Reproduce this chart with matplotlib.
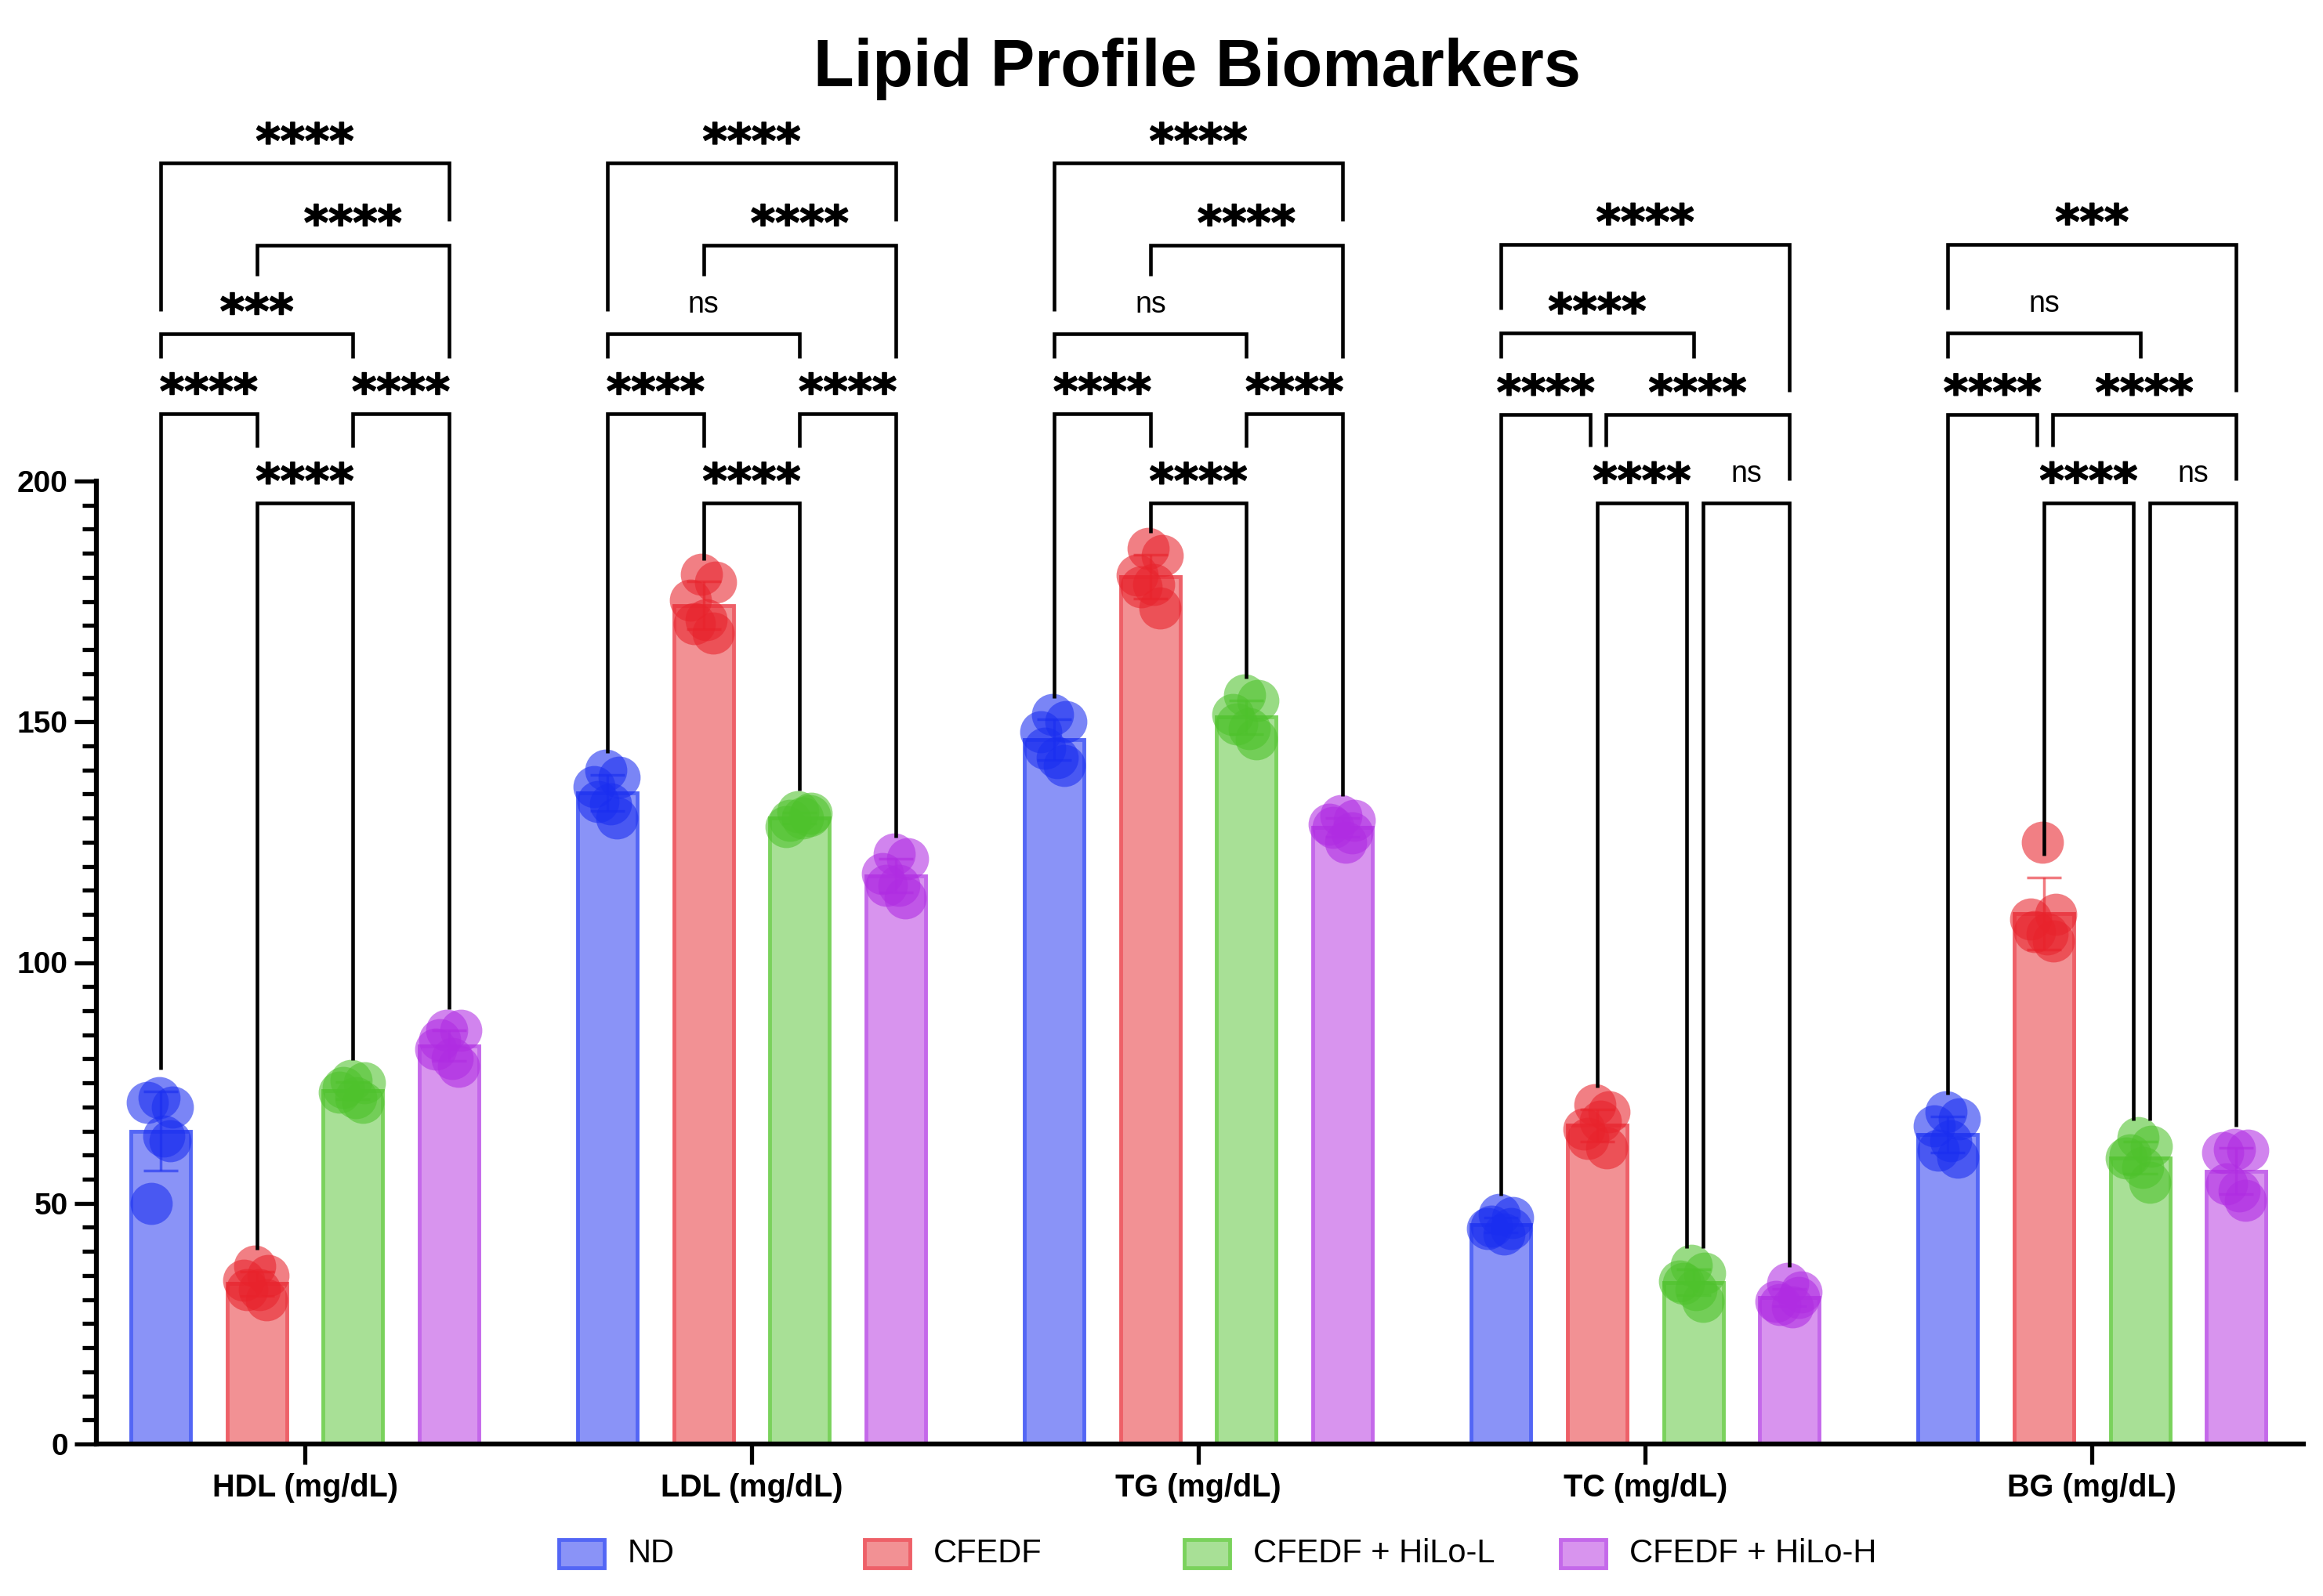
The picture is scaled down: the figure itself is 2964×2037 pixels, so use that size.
import numpy as np
import matplotlib
matplotlib.use("Agg")
import matplotlib.pyplot as plt
import matplotlib.patheffects as pe
from matplotlib.patches import Rectangle

# ---- data ----
categories = ["HDL (mg/dL)", "LDL (mg/dL)", "TG (mg/dL)", "TC (mg/dL)", "BG (mg/dL)"]
groups = ["ND", "CFEDF", "CFEDF + HiLo-L", "CFEDF + HiLo-H"]

nd_pts = [[72, 70, 71, 64, 63, 50],
          [140, 138.5, 136.5, 133, 130, 133.5],
          [151.5, 150, 148, 142.5, 141, 144.5],
          [47.7, 47, 44.8, 43.6, 44.8, 45.3],
          [69, 67.5, 66, 63, 59.5, 61]]
cfedf_pts = [[37, 35, 34, 32, 30, 32],
             [180.6, 179, 175.3, 171.2, 168.4, 170.4],
             [186, 184.5, 180.4, 178.5, 173.6, 178],
             [70.5, 69, 65.5, 67, 61.5, 63.5],
             [125, 110, 109, 106, 104.5, 106.5]]
hilol_pts = [[75.5, 75, 73, 72, 71, 74],
             [131.3, 131, 128.2, 130, 130.5, 129.5],
             [155.5, 154.5, 151.5, 148.5, 146.5, 149.5],
             [37.1, 35.5, 33.9, 32, 29.6, 33.4],
             [63.7, 61.8, 59.4, 57.5, 54.3, 60]]
hiloh_pts = [[86, 86, 82, 80, 78.5, 84],
             [122.5, 121.5, 118.5, 116, 113.5, 116],
             [130.5, 129.5, 128.7, 125, 127, 128],
             [33.4, 31.5, 29.6, 28.5, 30.5, 29],
             [61.2, 61, 60.5, 52.5, 50.6, 54]]
all_pts = [nd_pts, cfedf_pts, hilol_pts, hiloh_pts]

# significance labels, one list per category (order follows the bracket layout)
sig_hdl = ["****", "****", "***", "****", "****", "****"]
sig_ldl = ["****", "****", "ns", "****", "****", "****"]
sig_tg = ["****", "****", "ns", "****", "****", "****"]
sig_tc = ["****", "****", "****", "****", "****", "ns"]
sig_bg = ["***", "ns", "****", "****", "****", "ns"]
sig_labels = [sig_hdl, sig_ldl, sig_tg, sig_tc, sig_bg]

# ---- styling / layout ----
fill_cols = ["#8A93F7", "#F29194", "#A8E096", "#D894EE"]
edge_cols = ["#5366F5", "#EE6068", "#7AD25C", "#C468EA"]
dot_cols = ["#1A2EF0", "#E8232C", "#4EC22C", "#B02CE2"]

group_gap = 4.65
bar_w = 0.62
jitter = [-0.02, 0.12, -0.14, 0.03, 0.1, -0.1]

# bracket layouts: (i, j, line y, left leg bottom, right leg bottom, left dx, right dx)
layout_a = [(0, 3, 266.0, 235.3, 254.0, 0, 0),
            (1, 3, 249.0, 242.6, 225.5, 0, 0),
            (0, 2, 230.6, 225.5, 225.5, 0, 0),
            (0, 1, 214.0, None, 207.0, 0, 0),
            (2, 3, 214.0, 207.0, None, 0, 0),
            (1, 2, 195.4, None, None, 0, 0)]
layout_b = [(0, 3, 249.2, 235.6, 218.5, 0, 0),
            (0, 2, 230.7, 225.6, 225.6, 0, 0),
            (0, 1, 213.8, None, 207.2, 0, -0.07),
            (1, 3, 213.8, 207.2, 200.2, 0.09, 0),
            (1, 2, 195.5, None, None, 0, -0.07),
            (2, 3, 195.5, None, None, 0.1, 0)]
layouts = [layout_a, layout_a, layout_a, layout_b, layout_b]

FONT = "Liberation Sans"
plt.rcParams["font.family"] = [FONT, "DejaVu Sans"]

W, H = 2964, 2037
fig = plt.figure(figsize=(W / 100, H / 100), dpi=100)
ymax = 285
px_per_unit = 6.145
ax = fig.add_axes([123 / W, 194 / H, 2816 / W, ymax * px_per_unit / H])
ax.patch.set_visible(False)

centers = np.arange(len(categories)) * group_gap
means = np.array([[np.mean(p) for p in grp] for grp in all_pts])
sds = np.array([[np.std(p, ddof=1) for p in grp] for grp in all_pts])

for k in range(len(groups)):
    xs = centers + (k - 1.5)
    ax.bar(xs, means[k], width=bar_w, color=fill_cols[k], edgecolor=edge_cols[k],
           linewidth=3.5, zorder=2)
    ax.errorbar(xs, means[k], yerr=sds[k], fmt="none", ecolor=dot_cols[k], alpha=0.6,
                elinewidth=2.5, capsize=16, capthick=2.5, zorder=3)
    for c in range(len(categories)):
        pts = all_pts[k][c]
        px = xs[c] + np.array(jitter[:len(pts)])
        ax.scatter(px, pts, s=1500, color=dot_cols[k], alpha=0.58, linewidths=0,
                   zorder=4)

# significance brackets
star_fx = [pe.withStroke(linewidth=1.2, foreground="black")]
for c in range(len(categories)):
    for (i, j, yl, b1, b2, d1, d2), lab in zip(layouts[c], sig_labels[c]):
        x1 = centers[c] + i - 1.5 + d1
        x2 = centers[c] + j - 1.5 + d2
        if b1 is None:
            b1 = means[i][c] + sds[i][c] + 4.5
        if b2 is None:
            b2 = means[j][c] + sds[j][c] + 4.5
        ax.plot([x1, x1, x2, x2], [b1, yl, yl, b2], color="black", lw=3.3,
                solid_joinstyle="miter", solid_capstyle="butt", zorder=5,
                clip_on=False)
        xm = (x1 + x2) / 2
        if lab == "ns":
            ax.text(xm, yl + 4.4, lab, ha="center", va="baseline", fontsize=27)
        else:
            ax.text(xm, yl + 1.3, lab, ha="center", va="baseline", fontsize=43,
                    fontweight="bold", family="DejaVu Sans", path_effects=star_fx)

ax.set_xlim(-2.17, centers[-1] + 2.2)
ax.set_ylim(0, ymax)

for s in ["top", "right"]:
    ax.spines[s].set_visible(False)
ax.spines["left"].set_bounds(0, 200)
ax.spines["left"].set_linewidth(4.5)
ax.spines["bottom"].set_linewidth(4.5)

ax.set_yticks(np.arange(0, 201, 50))
ax.set_yticks(np.arange(0, 201, 5), minor=True)
ax.tick_params(axis="y", which="major", length=20, width=3.8, labelsize=28, pad=6)
ax.tick_params(axis="y", which="minor", length=13, width=3.8)
ax.set_xticks(centers)
ax.set_xticklabels(categories)
ax.tick_params(axis="x", which="major", length=19, width=3.8, labelsize=28.5, pad=8)
ax.tick_params(axis="x", which="minor", bottom=False)
for lbl in ax.get_xticklabels() + ax.get_yticklabels():
    lbl.set_fontweight("bold")

fig.text(1528 / W, 1 - 88 / H, "Lipid Profile Biomarkers", ha="center", va="center",
         fontsize=61, fontweight="bold")

# legend drawn by hand so the uneven spacing matches
leg_x = [713, 1103, 1511, 1991]
leg_y = 1983
for k, name in enumerate(groups):
    fig.patches.append(Rectangle(((leg_x[k]) / W, 1 - (leg_y + 18) / H), 58 / W, 36 / H,
                                 transform=fig.transFigure, facecolor=fill_cols[k],
                                 edgecolor=edge_cols[k], linewidth=3.5))
    fig.text((leg_x[k] + 88) / W, 1 - leg_y / H, name, ha="left", va="center",
             fontsize=30)

fig.savefig("out.png", dpi=100)
